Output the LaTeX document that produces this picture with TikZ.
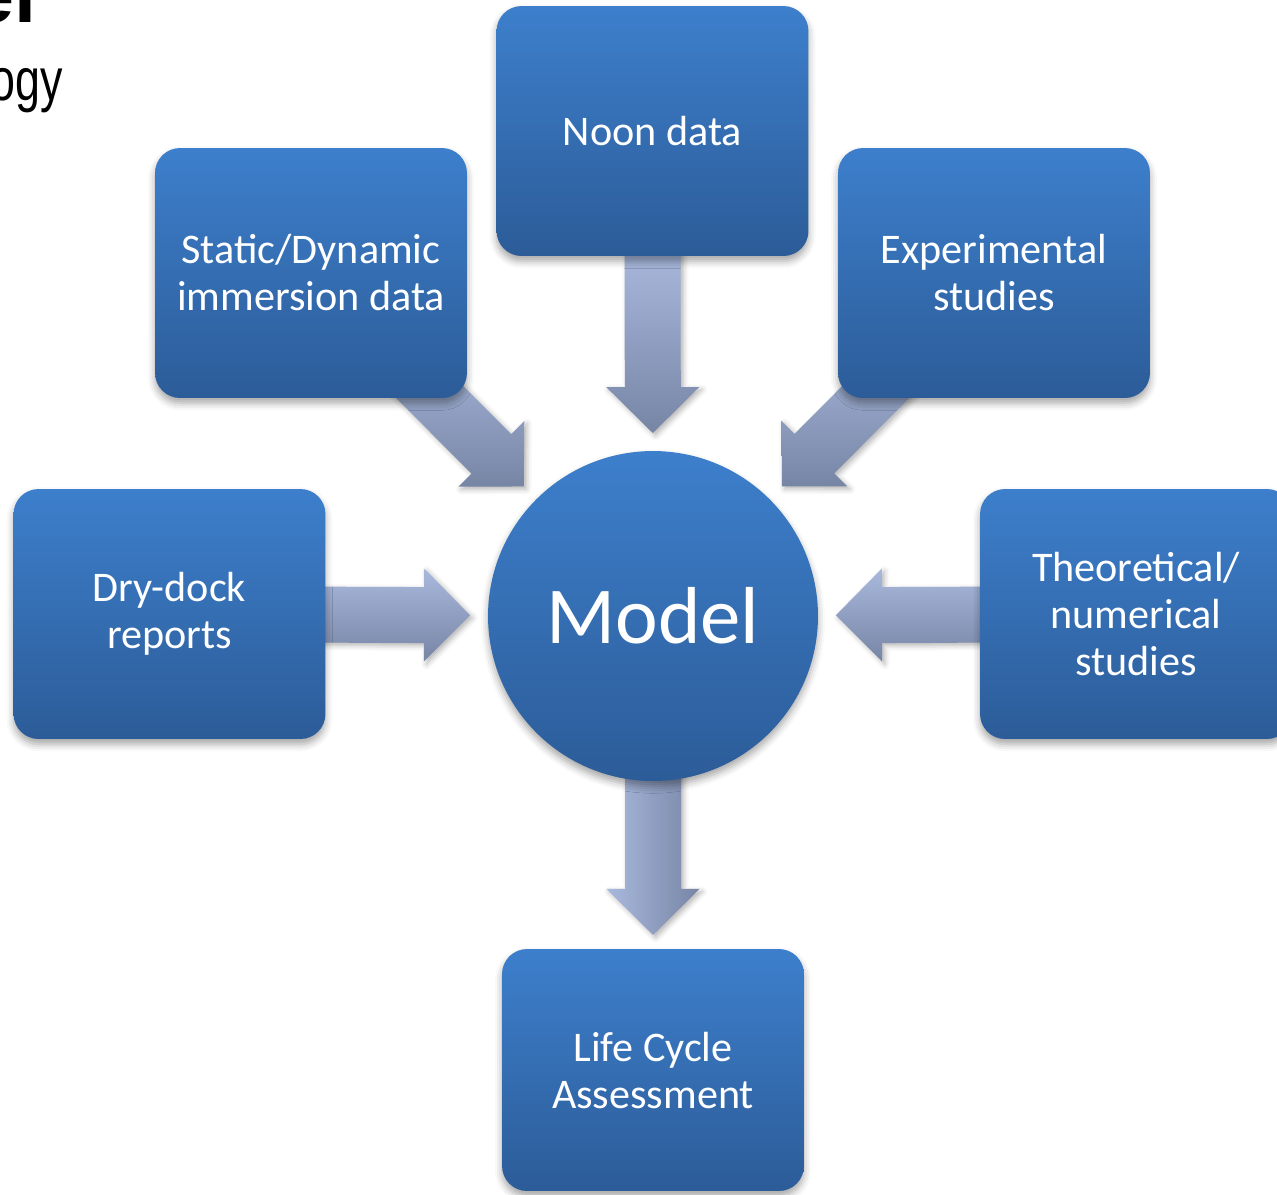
\documentclass[tikz,border=0pt]{standalone}
\usepackage{fontspec}
\setmainfont{Carlito}
\newfontfamily\slidefont{Liberation Sans}
\usepackage{tikz}
\usetikzlibrary{calc,shadows.blur}
\pgfdeclarelayer{background}
\pgfsetlayers{background,main}
\definecolor{boxtop}{HTML}{3D7FCC}
\definecolor{boxbot}{HTML}{2C5C98}
\definecolor{arrtop}{HTML}{A9B9DD}
\definecolor{arrbot}{HTML}{7785A5}
\newcommand{\feedarrow}[5]{%
  \coordinate (s) at ($(#1)!#3!(#2)$);
  \coordinate (t) at ($(#1)!#4!(#2)$);
  \coordinate (b) at ($(t)!0.92cm!(s)$);
  \path[ArrowStyle, shading angle=#5]
    ($(s)!0.56cm!90:(t)$) -- ($(b)!0.56cm!90:(t)$) -- ($(b)!0.93cm!90:(t)$) -- (t)
    -- ($(b)!0.93cm!-90:(t)$) -- ($(b)!0.56cm!-90:(t)$) -- ($(s)!0.56cm!-90:(t)$) -- cycle;
}

\begin{document}
\begin{tikzpicture}[x=0.02cm, y=-0.02cm]
        \tikzset{BoxStyle/.style={rectangle, rounded corners=0.5cm,
            minimum width=6.24cm, minimum height=5cm,
            top color=boxtop, bottom color=boxbot, text=white, align=center,
            font=\fontsize{24}{26.75}\selectfont,
            blur shadow={shadow xshift=0pt, shadow yshift=-3pt,
              shadow blur radius=4pt, shadow opacity=35}},
          ArrowStyle/.style={top color=arrtop, bottom color=arrbot,
            blur shadow={shadow xshift=1.5pt, shadow yshift=-1.5pt,
              shadow blur radius=3pt, shadow opacity=30}}}
        \useasboundingbox (0,0) rectangle (1277,1194);
        \node[anchor=base east, inner sep=0pt, font=\slidefont\fontsize{45}{48}\selectfont\bfseries] (ttl) at (37,22) {el};
        \node[anchor=base east, inner sep=0pt, xscale=0.75, font=\slidefont\fontsize{34}{40}\selectfont] (sub) at (63,100) {ogy};
        \node[circle, minimum size=6.6cm, top color=boxtop, bottom color=boxbot,
          text=white, font=\fontsize{46}{50}\selectfont,
          blur shadow={shadow xshift=0pt, shadow yshift=-3pt,
            shadow blur radius=4pt, shadow opacity=35}] (model) at (653,616) {Model};
        \node[BoxStyle] (noon) at (652.5,131) {Noon data};
        \node[BoxStyle] (static) at (311,273) {Static/Dynamic\\immersion data};
        \node[BoxStyle] (exper) at (994,273) {Experimental\\studies};
        \node[BoxStyle] (dry) at (169.5,614) {Dry-dock\\reports};
        \node[BoxStyle] (theo) at (1136,614) {Theoretical/\\numerical\\studies};
        \node[BoxStyle, minimum width=6.04cm, minimum height=4.84cm] (lca) at (653,1070) {Life Cycle\\Assessment};
        \begin{pgfonlayer}{background}
          \feedarrow{model.center}{noon.center}{7.4cm}{3.66cm}{0}
          \feedarrow{model.center}{static.center}{7.4cm}{3.66cm}{0}
          \feedarrow{model.center}{exper.center}{7.4cm}{3.66cm}{0}
          \feedarrow{model.center}{dry.center}{7.4cm}{3.66cm}{0}
          \feedarrow{model.center}{theo.center}{7.4cm}{3.66cm}{0}
          \feedarrow{model.center}{lca.center}{2.6cm}{6.38cm}{90}
        \end{pgfonlayer}
    \end{tikzpicture}
\end{document}
